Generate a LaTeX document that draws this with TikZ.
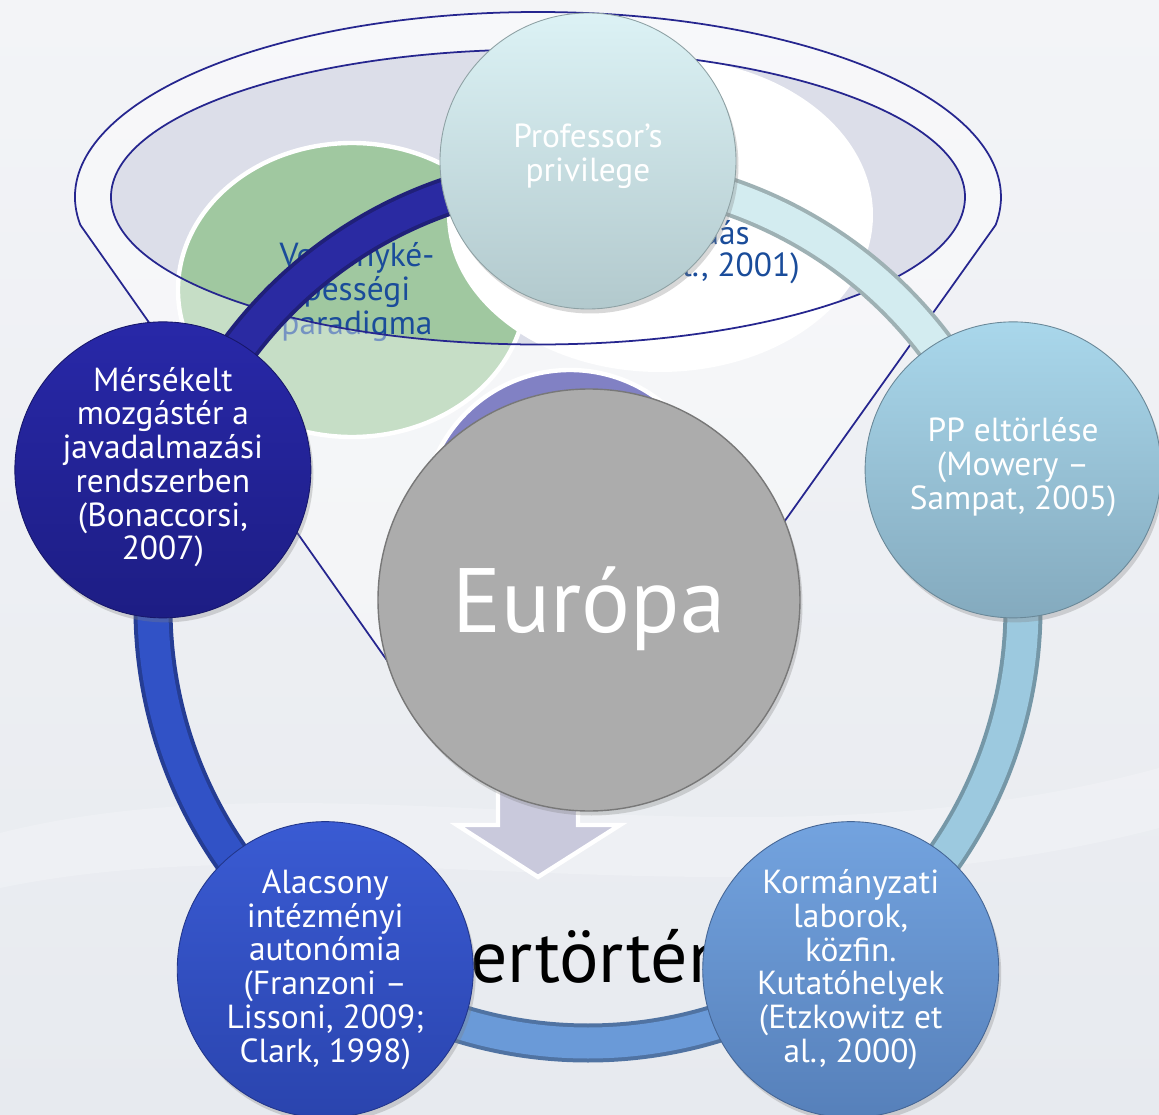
\documentclass[tikz,border=0pt]{standalone}
\usepackage{fontspec}
\setmainfont{PT Sans}
\usetikzlibrary{calc,shadows}

\definecolor{bgtop}{HTML}{F3F4F7}
\definecolor{bgbot}{HTML}{E7EAEF}
\definecolor{navyline}{HTML}{26268F}
\definecolor{lavender}{HTML}{DCDEE9}
\definecolor{grn}{HTML}{A0C8A0}
\definecolor{purp}{HTML}{2E2E9E}
\definecolor{funnelblue}{HTML}{1A4C9A}
\definecolor{arrowlav}{HTML}{C9C9DC}
\definecolor{eurogray}{HTML}{ACACAC}
\definecolor{profA}{HTML}{DCF2F5}
\definecolor{profB}{HTML}{B2C9CD}
\definecolor{ppA}{HTML}{A9D7EB}
\definecolor{ppB}{HTML}{84AABE}
\definecolor{govA}{HTML}{73A3DF}
\definecolor{govB}{HTML}{5680BA}
\definecolor{autoA}{HTML}{3A5BD3}
\definecolor{autoB}{HTML}{2A44AE}
\definecolor{payA}{HTML}{2828A8}
\definecolor{payB}{HTML}{1D1D84}
\definecolor{profband}{HTML}{D3ECF0}
\definecolor{ppband}{HTML}{9CC9DF}
\definecolor{govband}{HTML}{6A9AD8}
\definecolor{autoband}{HTML}{3152C6}
\definecolor{payband}{HTML}{2A2AA2}

\tikzset{
  cyclenode/.style 2 args={circle, minimum size=5.92cm, inner sep=0pt, align=center,
    text=white, top color=#1, bottom color=#2, draw=#2!80!black, line width=0.5pt,
    drop shadow={opacity=0.3, shadow xshift=0.05cm, shadow yshift=-0.09cm}},
  band/.style={draw=#1!75!black, line width=0.78cm, postaction={draw=#1, line width=0.62cm}},
  funneltext/.style={text=funnelblue, align=center}
}

\begin{document}
\begin{tikzpicture}[font=\fontsize{19}{19.2}\selectfont]
    \useasboundingbox (-11.76,-10.12) rectangle (11.42,12.16);
    \shade[top color=bgtop, bottom color=bgbot] (-11.76,-10.12) rectangle (11.42,12.16);
    \fill[white, opacity=0.22] (-11.76,-4.5) .. controls (-5,-2.8) and (3,-5.5) .. (11.42,-3.2)
        -- (11.42,-4.4) .. controls (3,-6.6) and (-5,-4.2) .. (-11.76,-5.6) -- cycle;

    \coordinate (ring) at (0,0);
    \coordinate (fc) at (-1.0,8.22);
    \def\funnel{($(fc)+(188.7:9.26 and 3.7)$) arc[start angle=188.7, end angle=-8.7, x radius=9.26, y radius=3.7]
        -- (1.10,-2.24) -- (-3.18,-2.24) -- cycle};

    % funnel top and its three balls
    \fill[lavender] (fc) ellipse[x radius=8.54, y radius=2.95];
    \filldraw[fill=grn, draw=white, line width=2.5pt] (-4.72,6.36) ellipse[x radius=3.48, y radius=2.94];
    \node[funneltext] (comp) at (-4.62,6.32) {Versenyké-\\pességi\\paradigma};
    \fill[white] (1.44,7.86) ellipse[x radius=4.26, y radius=3.14];
    \node[funneltext, anchor=base east, inner sep=0pt] (ent1) at (2.86,7.90) {.};
    \node[funneltext, anchor=base east, inner sep=0pt] (ent2) at (3.24,7.26) {dás};
    \node[funneltext, anchor=base east, inner sep=0pt] (ent3) at (4.24,6.62) {al., 2001)};
    \filldraw[fill=purp, draw=white, line width=2.5pt] (-0.36,1.82) circle[radius=2.94];

    \fill[white, opacity=0.4, even odd rule] \funnel (fc) ellipse[x radius=8.54, y radius=2.95];
    \draw[navyline, line width=1pt] \funnel;
    \draw[navyline, line width=1pt] (fc) ellipse[x radius=8.54, y radius=2.95];

    \filldraw[fill=arrowlav, draw=white, line width=2.5pt] (-1.80,-1.84) -- (-1.80,-4.34) -- (-2.62,-4.34)
        -- (-1.00,-5.38) -- (0.64,-4.34) -- (-0.20,-4.34) -- (-0.20,-1.84) -- cycle;
    \node[anchor=base west, inner sep=0pt, font=\fontsize{42}{48}\selectfont] (hist) at (-2.36,-7.48) {ertörtén};

    % cycle
    \coordinate (c-prof) at (90:8.94);
    \coordinate (c-pp) at (18:8.94);
    \coordinate (c-gov) at (-54:8.94);
    \coordinate (c-auto) at (-126:8.94);
    \coordinate (c-pay) at (162:8.94);

    \draw[band=profband] ($(c-prof)!0.24cm!(ring)$) arc[start angle=90, end angle=18, radius=8.7];
    \draw[band=ppband] ($(c-pp)!0.24cm!(ring)$) arc[start angle=18, end angle=-54, radius=8.7];
    \draw[band=govband] ($(c-gov)!0.24cm!(ring)$) arc[start angle=-54, end angle=-126, radius=8.7];
    \draw[band=autoband] ($(c-auto)!0.24cm!(ring)$) arc[start angle=-126, end angle=-198, radius=8.7];
    \draw[band=payband] ($(c-pay)!0.24cm!(ring)$) arc[start angle=162, end angle=90, radius=8.7];

    \node[circle, minimum size=8.44cm, inner sep=0pt, fill=eurogray, draw=eurogray!70!black, line width=0.8pt,
        text=white, font=\fontsize{52}{60}\selectfont, text height=1.6cm, text depth=0.32cm,
        drop shadow={opacity=0.3, shadow xshift=0.05cm, shadow yshift=-0.09cm}] (europe) at (0.02,0.16) {Európa};

    \node[cyclenode={profA}{profB}] (prof) at (c-prof) {Professor’s\\privilege\\[-10pt]};
    \node[cyclenode={ppA}{ppB}] (pp) at (c-pp) {PP eltörlése\\(Mowery –\\Sampat, 2005)\\[-12pt]};
    \node[cyclenode={govA}{govB}] (gov) at (c-gov) {Kormányzati\\laborok,\\közfin.\\Kutatóhelyek\\(Etzkowitz et\\al., 2000)};
    \node[cyclenode={autoA}{autoB}] (auto) at (c-auto) {Alacsony\\intézményi\\autonómia\\(Franzoni –\\Lissoni, 2009;\\Clark, 1998)};
    \node[cyclenode={payA}{payB}] (pay) at (c-pay) {Mérsékelt\\mozgástér a\\javadalmazási\\rendszerben\\(Bonaccorsi,\\2007)\\[-12pt]};
\end{tikzpicture}
\end{document}
